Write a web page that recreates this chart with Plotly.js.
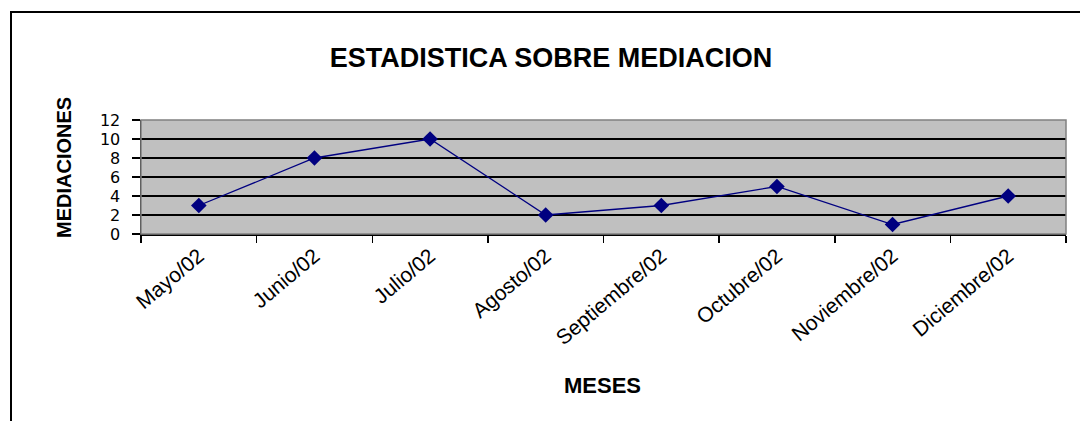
<!DOCTYPE html>
<html>
<head>
<meta charset="utf-8">
<script src="https://cdn.plot.ly/plotly-3.0.1.min.js"></script>
<style>
  html, body { margin: 0; padding: 0; background: #ffffff; }
  #chart { width: 1080px; height: 421px; }
</style>
</head>
<body>
<div id="chart"></div>
<script>
const meses = ["Mayo/02", "Junio/02", "Julio/02", "Agosto/02", "Septiembre/02", "Octubre/02", "Noviembre/02", "Diciembre/02"];
const mediaciones = [3, 8, 10, 2, 3, 5, 1, 4];
const yTicks = [0, 2, 4, 6, 8, 10, 12];

const W = 1080, H = 421;
const M = { l: 141, r: 14, t: 120, b: 187 };
const pw = W - M.l - M.r, ph = H - M.t - M.b;
const px = v => (v - M.l) / pw;
const py = v => (H - M.b - v) / ph;

const FONT = "Liberation Sans, Arial, sans-serif";

const trace = {
  type: "scatter",
  mode: "lines+markers",
  x: meses,
  y: mediaciones,
  line: { color: "#000080", width: 1.3 },
  marker: { symbol: "diamond", size: 12, color: "#000080" },
  hoverinfo: "x+y"
};

const layout = {
  width: W, height: H,
  margin: M,
  paper_bgcolor: "#ffffff",
  plot_bgcolor: "#C0C0C0",
  showlegend: false,
  font: { family: FONT, color: "#000000" },
  title: {
    text: "<b>ESTADISTICA SOBRE MEDIACION</b>",
    font: { family: FONT, size: 27, color: "#000000" },
    xref: "container", x: 551 / W, xanchor: "center",
    yref: "container", y: 1 - 58 / H, yanchor: "middle"
  },
  xaxis: {
    type: "category",
    range: [-0.5, meses.length - 0.5],
    tickson: "boundaries",
    ticks: "outside", ticklen: 7, tickwidth: 1.5, tickcolor: "#000000",
    showline: true, linecolor: "#000000", linewidth: 1.5,
    showgrid: false, zeroline: false,
    tickangle: -40,
    tickfont: { family: FONT, size: 21, color: "#000000" },
    automargin: false
  },
  yaxis: {
    range: [0, 12],
    tickvals: yTicks,
    ticktext: yTicks.map(String),
    ticks: "outside", ticklen: 8, tickwidth: 1.5, tickcolor: "#000000",
    ticklabelstandoff: 8,
    showline: true, linecolor: "#000000", linewidth: 1.5,
    showgrid: true, gridcolor: "#000000", gridwidth: 1.4,
    zeroline: false,
    tickfont: { family: "DejaVu Sans, Liberation Sans, sans-serif", size: 16, color: "#000000" },
    automargin: false
  },
  shapes: [
    { type: "rect", xref: "paper", yref: "paper", x0: 0, x1: 1, y0: 0, y1: 1,
      line: { color: "#808080", width: 1.5 }, layer: "above" },
    { type: "rect", xref: "paper", yref: "paper",
      x0: px(11), x1: px(1090), y0: py(12), y1: py(430),
      line: { color: "#000000", width: 2 }, layer: "below" }
  ],
  annotations: [
    { text: "<b>MEDIACIONES</b>", xref: "paper", yref: "paper",
      x: px(64), y: py(168), xanchor: "center", yanchor: "middle",
      textangle: -90, showarrow: false,
      font: { family: FONT, size: 20, color: "#000000" } },
    { text: "<b>MESES</b>", xref: "paper", yref: "paper",
      x: px(602), y: py(386), xanchor: "center", yanchor: "middle",
      showarrow: false,
      font: { family: FONT, size: 22, color: "#000000" } }
  ]
};

Plotly.newPlot("chart", [trace], layout, { displayModeBar: false, staticPlot: true });
</script>
</body>
</html>
